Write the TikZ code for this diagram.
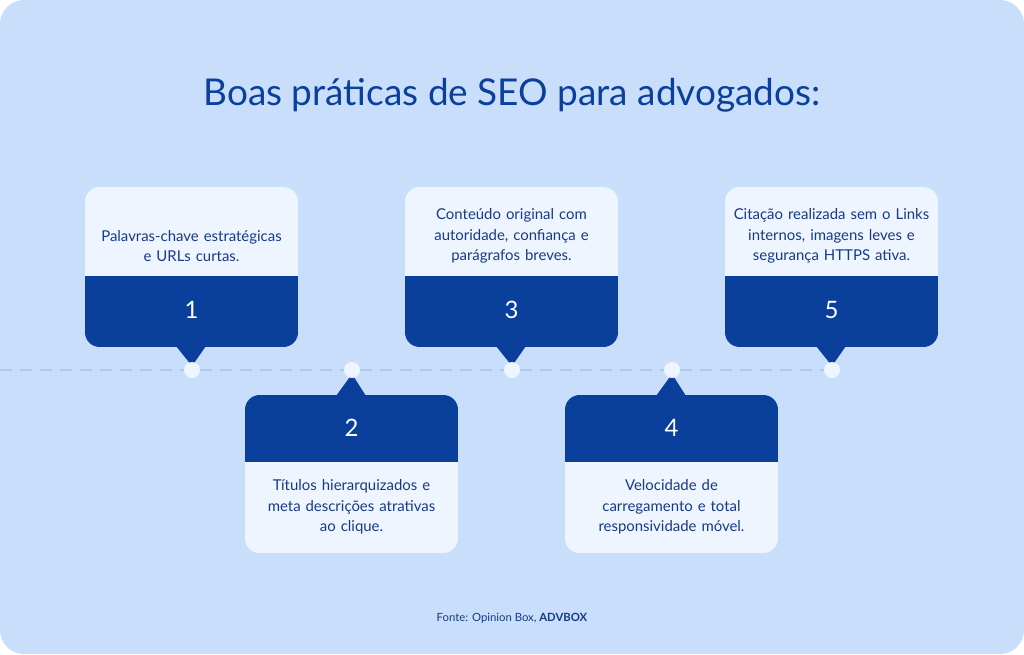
\documentclass[tikz,border=0pt]{standalone}
\usepackage{fontspec}
\setmainfont{Lato}
\definecolor{bg}{HTML}{C8DEFB}
\definecolor{dk}{HTML}{0A3F9C}
\definecolor{lt}{HTML}{EEF5FE}
\definecolor{tx}{HTML}{163A86}
\definecolor{dl}{HTML}{ADC9F0}
\tikzset{
 desc/.style={text=tx,font=\fontsize{11.2}{15.5}\selectfont,align=center,text width=150pt},
 num/.style={text=white,font=\fontsize{18}{20}\selectfont},
 dot/.style={circle,fill=lt,minimum size=12pt,inner sep=0pt},
}
\newcommand{\topbox}[5]{% x1, label, text, name
 \begin{scope}
 \clip[rounded corners=11pt] (#1,187) rectangle (#1+213,347);
 \fill[lt] (#1,187) rectangle (#1+213,276);
 \fill[dk] (#1,276) rectangle (#1+213,347);
 \end{scope}
 \fill[dk] (#1+91,346) -- (#1+121,346) -- (#1+107,366) -- cycle;
 \node[desc] (t#4) at (#1+106.5,#5) {#3};
 \node[num] (n#4) at (#1+106.5,310) {#2};
 \node[dot] (d#4) at (#1+107,370) {};
}
\newcommand{\botbox}[5]{%
 \begin{scope}
 \clip[rounded corners=11pt] (#1,395) rectangle (#1+213,553);
 \fill[dk] (#1,395) rectangle (#1+213,462);
 \fill[lt] (#1,462) rectangle (#1+213,553);
 \end{scope}
 \fill[dk] (#1+91,396) -- (#1+121,396) -- (#1+107,374) -- cycle;
 \node[desc] (t#4) at (#1+106.5,#5) {#3};
 \node[num] (n#4) at (#1+106.5,428) {#2};
 \node[dot] (d#4) at (#1+107,370) {};
}
\begin{document}
\begin{tikzpicture}[x=0.75pt,y=-0.75pt]
\fill[white] (0,0) rectangle (1024,654);
\fill[bg,rounded corners=18pt] (0,0) rectangle (1024,654);
\useasboundingbox (0,0) rectangle (1024,654);
\coordinate (ls) at (0,370);
\coordinate (le) at (832,370);
\draw[dl,line width=2.2pt,dash pattern=on 9pt off 6pt] (ls) -- (le);
\node[text=dk,font=\fontsize{27.7}{30}\selectfont] (title) at (512,95) {Boas práticas de SEO para advogados:};
\topbox{85}{1}{Palavras-chave estratégicas\\e URLs curtas.}{1}{246}
\botbox{245}{2}{Títulos hierarquizados e\\meta descrições atrativas\\ao clique.}{2}{507}
\topbox{405}{3}{Conteúdo original com\\autoridade, confiança e\\parágrafos breves.}{3}{236}
\botbox{565}{4}{Velocidade de\\carregamento e total\\responsividade móvel.}{4}{507}
\topbox{725}{5}{Citação realizada sem o Links\\internos, imagens leves e\\segurança HTTPS ativa.}{5}{236}
\node[text=tx,font=\fontsize{8.5}{10}\selectfont] (src) at (512,618) {Fonte: Opinion Box, \textbf{ADVBOX}};
\end{tikzpicture}
\end{document}
